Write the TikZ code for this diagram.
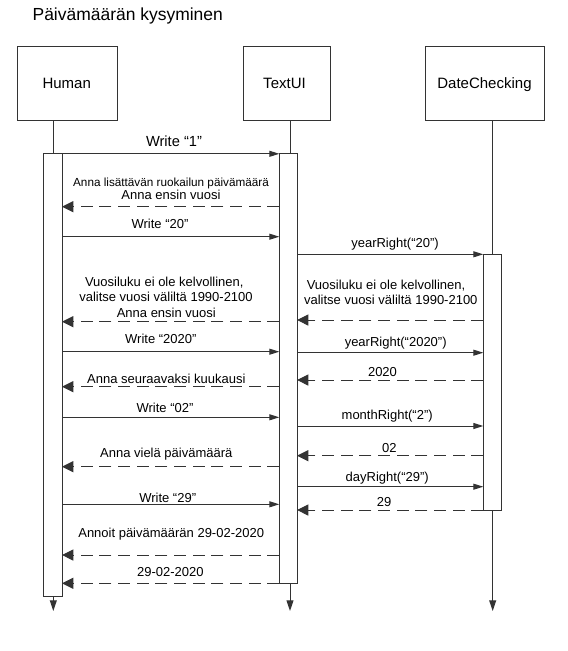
\documentclass[tikz,border=0pt]{standalone}
\usepackage{fontspec}
\setmainfont{Liberation Sans}
\usetikzlibrary{arrows.meta,fit}
\definecolor{ln}{HTML}{333333}
\begin{document}
\begin{tikzpicture}[x=0.75pt,y=-0.75pt,
  every node/.style={inner sep=0pt, outer sep=0pt},
  hdr/.style={draw=ln, line width=0.75pt, fill=white, inner sep=0pt},
  hdrtext/.style={anchor=base, font=\fontsize{11.25}{13}\selectfont},
  bar/.style={draw=ln, line width=0.75pt, fill=white, inner sep=0pt},
  life/.style={draw=ln, line width=0.75pt, -{Triangle[length=8pt,width=5.2pt]}},
  call/.style={draw=ln, line width=0.75pt, -{Triangle[length=7.5pt,width=4.5pt]}},
  ret/.style={draw=ln, line width=0.75pt, dash pattern=on 9pt off 5pt, -{Triangle[length=8.5pt,width=8.3pt]}},
  lbl/.style={anchor=base, font=\fontsize{9.75}{11}\selectfont},
]
\useasboundingbox (0,0) rectangle (568,651);

% title
\node[anchor=base west, font=\fontsize{13.1}{15}\selectfont] (title) at (32.6,20) {Päivämäärän kysyminen};

% header boxes
\node[hdr, fit={(17.4,46) (117,120)}] (hbox) {};
\node[hdr, fit={(243,46) (330,120)}] (tbox) {};
\node[hdr, fit={(425.7,46) (544.6,120)}] (dbox) {};
\node[hdrtext] (hlab) at (66.7,88.3) {Human};
\node[hdrtext] (tlab) at (284.5,88.3) {TextUI};
\node[hdrtext] (dlab) at (484.5,88.3) {DateChecking};

% lifeline x positions and end
\coordinate (hl) at (53.3,0);
\coordinate (tl) at (290,0);
\coordinate (dl) at (492.7,0);
\coordinate (lend) at (0,611);

\draw[life] (hbox.south -| hl) -- (lend -| hl);
\draw[life] (tbox.south -| tl) -- (lend -| tl);
\draw[life] (dbox.south -| dl) -- (lend -| dl);

% activation bars
\node[bar, fit={(43.5,153.3) (62,596)}] (hbar) {};
\node[bar, fit={(279.3,153.3) (297,583.3)}] (tbar) {};
\node[bar, fit={(483.3,254.3) (501.7,510)}] (dbar) {};

% message levels
\coordinate (y1) at (0,153.8);
\coordinate (y2) at (0,206.7);
\coordinate (y3) at (0,236.7);
\coordinate (y4) at (0,254.3);
\coordinate (y5) at (0,320);
\coordinate (y6) at (0,321.7);
\coordinate (y7) at (0,351.7);
\coordinate (y8) at (0,352.7);
\coordinate (y9) at (0,380);
\coordinate (y10) at (0,386.7);
\coordinate (y11) at (0,417.3);
\coordinate (y12) at (0,426);
\coordinate (y13) at (0,455.7);
\coordinate (y14) at (0,466.7);
\coordinate (y15) at (0,486.7);
\coordinate (y16) at (0,504.3);
\coordinate (y17) at (0,510);
\coordinate (y18) at (0,555);
\coordinate (y19) at (0,583.3);

% messages
\draw[call] (hbar.east |- y1) -- (tbar.west |- y1);
\node[lbl, font=\fontsize{11}{13}\selectfont] (l1) at (174,146) {Write “1”};

\draw[ret] (tbar.west |- y2) -- (hbar.east |- y2);
\node[lbl, font=\fontsize{8.8}{10}\selectfont] (l2a) at (171,186.7) {Anna lisättävän ruokailun päivämäärä};
\node[lbl] (l2b) at (171,199.3) {Anna ensin vuosi};

\draw[call] (hbar.east |- y3) -- (tbar.west |- y3);
\node[lbl] (l3) at (160,228.5) {Write “20”};

\draw[call] (tbar.east |- y4) -- (dbar.west |- y4);
\node[lbl] (l4) at (395,247) {yearRight(“20”)};

\draw[ret] (dbar.west |- y5) -- (tbar.east |- y5);
\node[lbl] (l5a) at (386,289.3) {Vuosiluku ei ole kelvollinen,};
\node[lbl] (l5b) at (390.8,304.5) {valitse vuosi väliltä 1990-2100};

\draw[ret] (tbar.west |- y6) -- (hbar.east |- y6);
\node[lbl] (l6a) at (164.3,286) {Vuosiluku ei ole kelvollinen,};
\node[lbl] (l6b) at (166,301) {valitse vuosi väliltä 1990-2100};
\node[lbl] (l6c) at (166.3,317.3) {Anna ensin vuosi};

\draw[call] (hbar.east |- y7) -- (tbar.west |- y7);
\node[lbl] (l7) at (160.8,343.3) {Write “2020”};

\draw[call] (tbar.east |- y8) -- (dbar.west |- y8);
\node[lbl] (l8) at (395.7,346) {yearRight(“2020”)};

\draw[ret] (dbar.west |- y9) -- (tbar.east |- y9);
\node[lbl] (l9) at (382.5,376.7) {2020};

\draw[ret] (tbar.west |- y10) -- (hbar.east |- y10);
\node[lbl] (l10) at (166.3,383.3) {Anna seuraavaksi kuukausi};

\draw[call] (hbar.east |- y11) -- (tbar.west |- y11);
\node[lbl] (l11) at (165,412.7) {Write “02”};

\draw[call] (tbar.east |- y12) -- (dbar.west |- y12);
\node[lbl] (l12) at (387.2,419.3) {monthRight(“2”)};

\draw[ret] (dbar.west |- y13) -- (tbar.east |- y13);
\node[lbl] (l13) at (389.3,452.3) {02};

\draw[ret] (tbar.west |- y14) -- (hbar.east |- y14);
\node[lbl] (l14) at (166.3,457.8) {Anna vielä päivämäärä};

\draw[call] (tbar.east |- y15) -- (dbar.west |- y15);
\node[lbl] (l15) at (387.2,481) {dayRight(“29”)};

\draw[call] (hbar.east |- y16) -- (tbar.west |- y16);
\node[lbl] (l16) at (167.7,502.8) {Write “29”};

\draw[ret] (dbar.west |- y17) -- (tbar.east |- y17);
\node[lbl] (l17) at (384.2,506.3) {29};

\draw[ret] (tbar.west |- y18) -- (hbar.east |- y18);
\node[lbl] (l18) at (171.2,537.6) {Annoit päivämäärän 29-02-2020};

\draw[ret] (tbar.west |- y19) -- (hbar.east |- y19);
\node[lbl] (l19) at (170.3,576.7) {29-02-2020};
\end{tikzpicture}
\end{document}
